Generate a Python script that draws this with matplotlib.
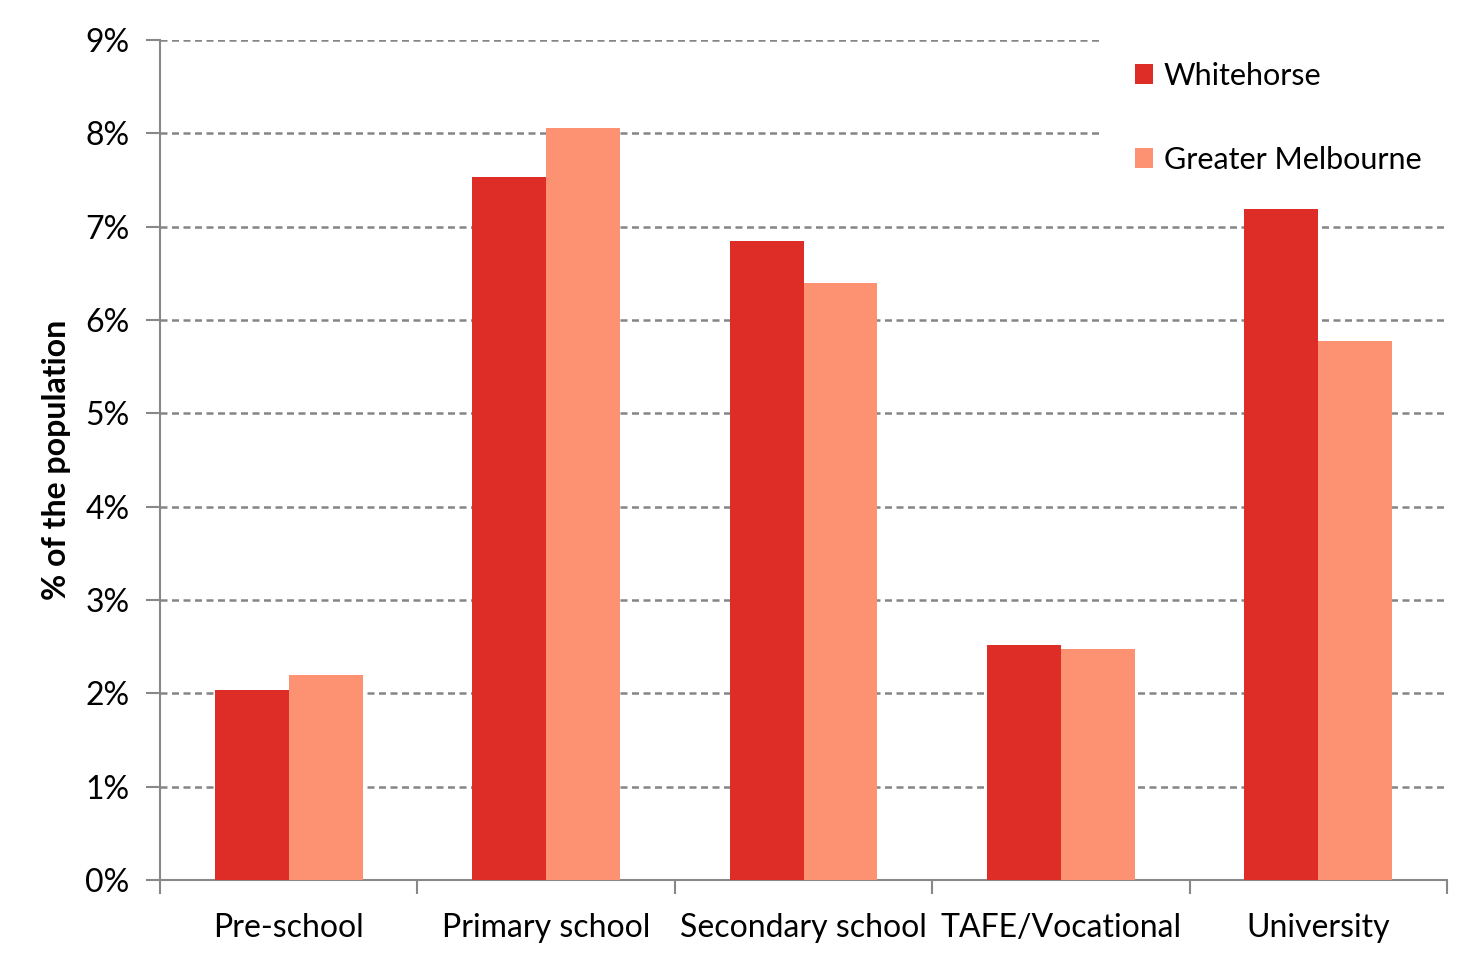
import numpy as np
import matplotlib.pyplot as plt
from matplotlib.ticker import FixedLocator, FuncFormatter

plt.rcParams['font.family'] = ['Lato', 'DejaVu Sans']

categories = ["Pre-school", "Primary school", "Secondary school", "TAFE/Vocational", "University"]
whitehorse = [2.04, 7.53, 6.85, 2.52, 7.30]
greater_melbourne = [2.20, 8.06, 6.40, 2.48, 5.78]

fig = plt.figure(figsize=(14.77, 9.68), dpi=100)
ax = fig.add_axes([160 / 1477, 88 / 968, 1287 / 1477, 840 / 968])

x = np.arange(len(categories))
w = 0.287
ax.bar(x - w / 2, whitehorse, w, color="#DE2D26", label="Whitehorse", zorder=3)
ax.bar(x + w / 2, greater_melbourne, w, color="#FC9272", label="Greater Melbourne", zorder=3)

ax.set_xlim(-0.5, len(categories) - 0.5)
ax.set_ylim(0, 9)
ax.set_yticks(range(0, 10))
ax.yaxis.set_major_formatter(FuncFormatter(lambda v, p: f"{int(v)}%"))
ax.grid(axis="y", color="#858585", linestyle=(0, (2.8, 1.8)), linewidth=1.8, zorder=1)

ax.set_xticks(x)
ax.set_xticklabels(categories)
ax.xaxis.set_minor_locator(FixedLocator(np.arange(-0.5, len(categories), 1.0)))
ax.tick_params(axis="x", which="major", length=0, labelsize=23, pad=24)
ax.tick_params(axis="x", which="minor", length=10, width=1.5, color="#888888")
ax.tick_params(axis="y", length=10, width=1.5, color="#888888", labelsize=23, pad=12)

for s in ["top", "right"]:
    ax.spines[s].set_visible(False)
for s in ["left", "bottom"]:
    ax.spines[s].set_color("#888888")
    ax.spines[s].set_linewidth(1.5)

ax.set_ylabel("% of the population", fontsize=23, fontweight="bold", labelpad=10)

leg = ax.legend(loc="upper left", bbox_to_anchor=(0.730, 1.016), frameon=True, fontsize=22,
                handlelength=0.6, handleheight=0.6, handletextpad=0.35,
                labelspacing=1.83, borderpad=1.15, borderaxespad=0)
leg.get_frame().set_facecolor("white")
leg.get_frame().set_edgecolor("none")
leg.get_frame().set_alpha(1)
leg.get_frame().set_boxstyle("square", pad=0)
leg.set_zorder(5)

fig.savefig("out.png", dpi=100)
